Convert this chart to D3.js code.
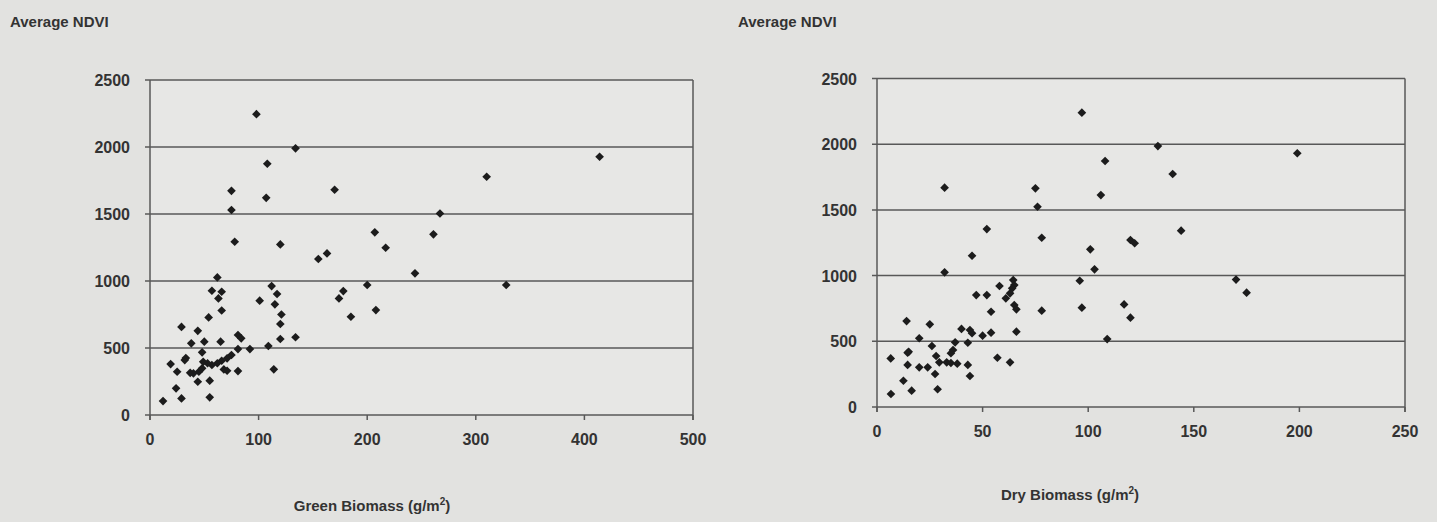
<!DOCTYPE html>
<html>
<head>
<meta charset="utf-8">
<script src="https://cdn.jsdelivr.net/npm/d3@7"></script>
<style>
  body { margin: 0; background: #e2e2e0; }
  svg { display: block; }
</style>
</head>
<body>
<div id="vis"></div>
<script>
// green biomass (g/m2) vs average NDVI, left panel
const greenBiomass = [98, 134, 108, 75, 107, 170, 75, 78, 120, 207, 217, 163, 155, 414, 310, 267, 261, 244, 328,
  62, 57, 66, 63, 66, 54, 29, 44, 38, 50, 65, 81, 84, 81, 92, 101, 112, 117, 115, 121, 120, 120, 134, 109, 114,
  174, 178, 185, 200, 208, 48, 75, 71, 66, 62, 57, 53, 32, 33, 19, 49, 48, 45, 40, 37, 25, 68, 71, 81, 44, 55,
  24, 29, 55, 12];
const greenNdvi = [2245, 1990, 1875, 1673, 1621, 1681, 1530, 1293, 1273, 1363, 1248, 1206, 1164, 1927, 1778, 1504, 1348, 1057, 970,
  1027, 927, 920, 870, 780, 728, 657, 628, 535, 547, 547, 597, 572, 492, 492, 853, 962, 903, 826, 750, 679, 567, 580, 515, 341,
  870, 925, 733, 970, 783, 468, 448, 423, 405, 386, 373, 386, 410, 425, 380, 397, 348, 323, 311, 315, 323, 340, 330, 328, 248, 256,
  199, 124, 132, 104];

// dry biomass (g/m2) vs average NDVI, right panel
const dryBiomass = [97, 133, 108, 32, 75, 106, 76, 52, 78, 45, 101, 120, 122, 103, 32, 96, 199, 140, 144, 170, 175, 117, 120,
  64.5, 65, 64, 63, 61, 58, 47, 52, 65, 66, 54, 78, 97, 109, 14, 25, 40, 44, 45, 50, 54, 66, 20, 26, 37, 36, 35, 43,
  14.5, 28, 6.5, 14.5, 20, 24, 29.5, 33, 35, 38, 43, 44, 27.5, 57, 63, 12.5, 16.4, 28.7, 6.6, 15];
const dryNdvi = [2240, 1986, 1872, 1669, 1664, 1613, 1524, 1354, 1288, 1151, 1200, 1271, 1246, 1048, 1025, 961, 1931, 1773, 1342, 970, 870, 781, 680,
  966, 928, 903, 865, 827, 921, 852, 852, 776, 743, 725, 733, 756, 517, 654, 629, 594, 586, 561, 543, 566, 573, 523, 464, 492, 434, 409, 489,
  413, 388, 370, 320, 302, 302, 340, 340, 335, 330, 320, 236, 251, 375, 340, 200, 124, 135, 99, 420];

const ndviTicks = [0, 500, 1000, 1500, 2000, 2500];
const greenTicks = [0, 100, 200, 300, 400, 500];
const dryTicks = [0, 50, 100, 150, 200, 250];

const WIDTH = 1437;
const HEIGHT = 522;
const FONT = "Liberation Sans, Arial, sans-serif";
const INK = "#333";
const GRID = "#585858";

const svg = d3.select("#vis").append("svg")
  .attr("width", WIDTH)
  .attr("height", HEIGHT);

function drawPanel(opts) {
  const x = d3.scaleLinear().domain([0, opts.xMax]).range([opts.left, opts.right]);
  const y = d3.scaleLinear().domain([0, 2500]).range([opts.bottom, opts.top]);
  const g = svg.append("g");

  // slightly lighter plot area, like the scan
  g.append("rect")
    .attr("x", opts.left).attr("y", opts.top)
    .attr("width", opts.right - opts.left).attr("height", opts.bottom - opts.top)
    .attr("fill", "#e7e7e5");

  // horizontal gridlines (the 0 one is the x axis)
  g.selectAll("line.grid")
    .data(ndviTicks)
    .enter().append("line")
    .attr("x1", opts.left - 5)
    .attr("x2", opts.right)
    .attr("y1", d => y(d))
    .attr("y2", d => y(d))
    .attr("stroke", GRID)
    .attr("stroke-width", 1.5);

  // left axis and right border
  g.append("line")
    .attr("x1", opts.left).attr("x2", opts.left)
    .attr("y1", opts.top).attr("y2", opts.bottom + 5)
    .attr("stroke", GRID).attr("stroke-width", 1.5);
  g.append("line")
    .attr("x1", opts.right).attr("x2", opts.right)
    .attr("y1", opts.top).attr("y2", opts.bottom + 5)
    .attr("stroke", GRID).attr("stroke-width", 1.5);

  // x ticks
  g.selectAll("line.xtick")
    .data(opts.xTicks)
    .enter().append("line")
    .attr("x1", d => x(d)).attr("x2", d => x(d))
    .attr("y1", opts.bottom).attr("y2", opts.bottom + 5)
    .attr("stroke", GRID).attr("stroke-width", 1.5);

  g.selectAll("text.xlab")
    .data(opts.xTicks)
    .enter().append("text")
    .attr("x", d => x(d))
    .attr("y", opts.bottom + 30)
    .attr("text-anchor", "middle")
    .attr("font-family", FONT)
    .attr("font-weight", "bold")
    .attr("font-size", "16px")
    .attr("fill", INK)
    .text(d => d);

  g.selectAll("text.ylab")
    .data(ndviTicks)
    .enter().append("text")
    .attr("x", opts.left - 20)
    .attr("y", d => y(d) + 6)
    .attr("text-anchor", "end")
    .attr("font-family", FONT)
    .attr("font-weight", "bold")
    .attr("font-size", "16px")
    .attr("fill", INK)
    .text(d => d);

  // points
  g.selectAll("path.pt")
    .data(opts.xs.map((v, i) => [v, opts.ys[i]]))
    .enter().append("path")
    .attr("d", d3.symbol().type(d3.symbolDiamond2).size(48))
    .attr("transform", d => `translate(${x(d[0])},${y(d[1])})`)
    .attr("fill", "#1c1c1c");

  // titles
  g.append("text")
    .attr("x", opts.titleX)
    .attr("y", 27)
    .attr("font-family", FONT)
    .attr("font-weight", "bold")
    .attr("font-size", "15px")
    .attr("fill", INK)
    .text("Average NDVI");

  const xt = g.append("text")
    .attr("x", opts.xTitleX)
    .attr("y", opts.xTitleY)
    .attr("text-anchor", "middle")
    .attr("font-family", FONT)
    .attr("font-weight", "bold")
    .attr("font-size", "15px")
    .attr("fill", INK);
  xt.append("tspan").text(opts.xTitle + " (g/m");
  xt.append("tspan").attr("font-size", "10px").attr("dy", "-6").text("2");
  xt.append("tspan").attr("dy", "6").text(")");
}

drawPanel({
  left: 150, right: 693, top: 80, bottom: 415, xMax: 500,
  xTicks: greenTicks, xs: greenBiomass, ys: greenNdvi,
  titleX: 10, xTitle: "Green Biomass", xTitleX: 372, xTitleY: 511
});

drawPanel({
  left: 877, right: 1405, top: 78.5, bottom: 407, xMax: 250,
  xTicks: dryTicks, xs: dryBiomass, ys: dryNdvi,
  titleX: 738, xTitle: "Dry Biomass", xTitleX: 1070, xTitleY: 500
});
</script>
</body>
</html>
